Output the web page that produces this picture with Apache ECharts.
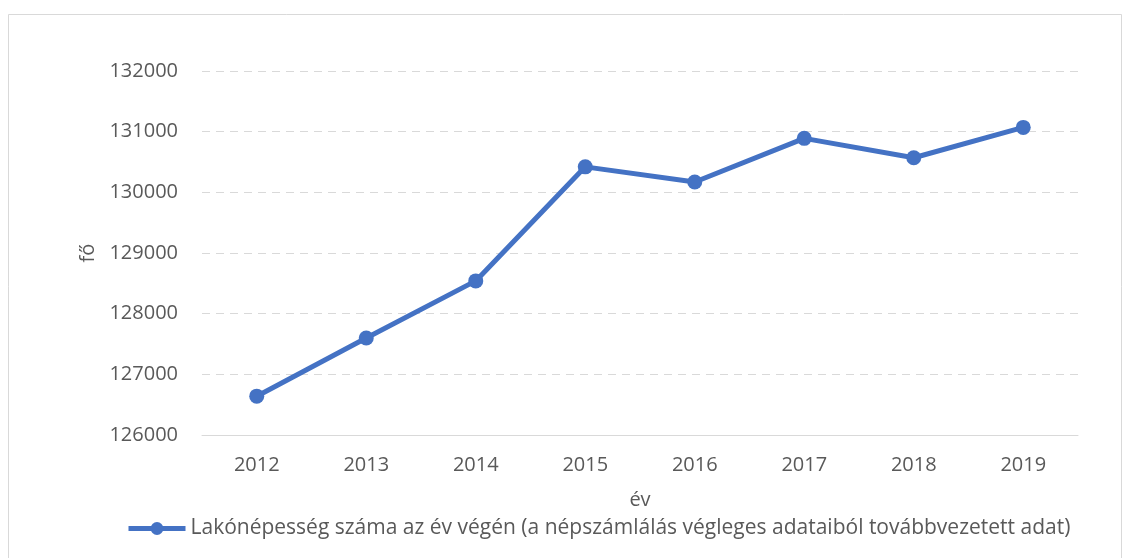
<!DOCTYPE html>
<html>
<head>
<meta charset="utf-8">
<script src="https://cdn.jsdelivr.net/npm/echarts@6/dist/echarts.min.js"></script>
<style>
  html, body { margin: 0; padding: 0; background: #fff; }
  #chart { width: 1130px; height: 558px; }
</style>
</head>
<body>
<div id="chart"></div>
<script>
// adatok
var years = ['2012', '2013', '2014', '2015', '2016', '2017', '2018', '2019'];
var population = [126640, 127600, 128540, 130420, 130170, 130890, 130570, 131070];
var seriesName = 'Lakónépesség száma az év végén (a népszámlálás végleges adataiból továbbvezetett adat)';

var chart = echarts.init(document.getElementById('chart'));
var font = '"Open Sans", sans-serif';
var grey = '#595959';

var option = {
    backgroundColor: '#fff',
    textStyle: { fontFamily: font },
    graphic: [{
        type: 'rect',
        shape: { x: 8.5, y: 14.5, width: 1113, height: 600 },
        style: { fill: 'none', stroke: '#d9d9d9', lineWidth: 1 },
        silent: true
    }],
    legend: {
        left: 126,
        top: 518,
        padding: 0,
        itemWidth: 57,
        itemHeight: 16,
        lineStyle: { width: 5 },
        textStyle: { fontFamily: font, fontSize: 21, color: grey },
        data: [seriesName]
    },
    grid: {
        left: 202,
        right: 52,
        top: 71,
        bottom: 123
    },
    xAxis: {
        type: 'category',
        data: years,
        boundaryGap: true,
        name: 'év',
        nameLocation: 'middle',
        nameGap: 55,
        nameTextStyle: { fontFamily: font, fontSize: 20, color: grey },
        axisLine: { lineStyle: { color: '#d9d9d9', width: 1 } },
        axisTick: { show: false },
        axisLabel: { fontFamily: font, fontSize: 20, color: grey, margin: 20 }
    },
    yAxis: {
        type: 'value',
        min: 126000,
        max: 132000,
        interval: 1000,
        name: 'fő',
        nameLocation: 'middle',
        nameGap: 97,
        nameRotate: 90,
        nameTextStyle: { fontFamily: font, fontSize: 20, color: grey },
        axisLine: { show: false },
        axisTick: { show: false },
        axisLabel: {
            fontFamily: font, fontSize: 20, color: grey, margin: 24,
            formatter: function (v) { return String(v); }
        },
        splitLine: { lineStyle: { color: '#d9d9d9', type: [8, 6], width: 1 } }
    },
    series: [{
        name: seriesName,
        type: 'line',
        data: population,
        symbol: 'circle',
        symbolSize: 15,
        color: '#4472C4',
        lineStyle: { width: 5, color: '#4472C4' },
        itemStyle: { color: '#4472C4' },
        animation: false
    }]
};

chart.setOption(option);
</script>
</body>
</html>
